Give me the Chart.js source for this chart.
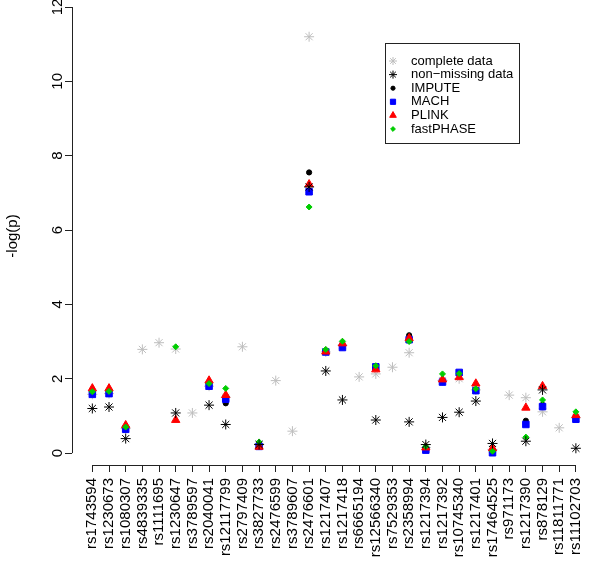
<!DOCTYPE html>
<html>
<head>
<meta charset="utf-8">
<script src="https://cdn.jsdelivr.net/npm/chart.js@4.4.1/dist/chart.umd.min.js"></script>
<style>
  html, body { margin: 0; padding: 0; background: #fff; }
</style>
</head>
<body>
<canvas id="chart" width="600" height="563"></canvas>
<script>
// SNP markers along the x axis
const snps = ['rs1743594', 'rs1230673', 'rs1080307', 'rs4839335', 'rs1111695', 'rs1230647',
  'rs3789597', 'rs2040041', 'rs12117799', 'rs2797409', 'rs3827733', 'rs2476599',
  'rs3789607', 'rs2476601', 'rs1217407', 'rs1217418', 'rs6665194', 'rs12566340',
  'rs7529353', 'rs2358994', 'rs1217394', 'rs1217392', 'rs10745340', 'rs1217401',
  'rs17464525', 'rs971173', 'rs1217390', 'rs878129', 'rs11811771', 'rs11102703'];

const yTicks = [0, 2, 4, 6, 8, 10, 12];

// -log(p) per SNP, null = not shown
const completeData = [1.58, 1.60, 0.66, 2.79, 2.97, 2.80, 1.08, 1.80, 1.50, 2.86,
  0.25, 1.95, 0.59, 11.2, 2.72, 2.90, 2.05, 2.13, 2.31, 2.70,
  0.15, 1.95, 2.00, 1.70, 0.10, 1.56, 1.49, 1.11, 0.68, 0.95];
const nonMissing = [1.20, 1.24, 0.39, null, null, 1.08, null, 1.29, 0.77, null,
  0.23, null, null, 7.16, 2.21, 1.43, null, 0.89, null, 0.84,
  0.23, 0.96, 1.10, 1.40, 0.26, null, 0.32, 1.70, null, 0.13];
const impute = [1.60, 1.62, 0.66, null, null, null, null, 1.82, 1.34, null,
  0.20, null, null, 7.55, 2.74, 2.88, null, 2.30, null, 3.17,
  0.10, 1.93, 2.15, 1.70, 0.03, null, 0.87, 1.30, null, 0.93];
const mach = [1.58, 1.60, 0.64, null, null, null, null, 1.80, 1.45, null,
  0.18, null, null, 7.03, 2.72, 2.84, null, 2.32, null, 3.05,
  0.08, 1.91, 2.17, 1.68, 0.01, null, 0.77, 1.25, null, 0.91];
const plink = [1.74, 1.74, 0.75, null, null, 0.89, null, 1.95, 1.56, null,
  0.17, null, null, 7.23, 2.73, 2.95, null, 2.25, null, 3.09,
  0.15, 1.98, 2.04, 1.87, 0.13, null, 1.22, 1.80, null, 1.02];
const fastPhase = [1.65, 1.66, 0.70, null, null, 2.86, null, 1.87, 1.74, null,
  0.30, null, null, 6.62, 2.79, 3.01, null, 2.35, null, 3.00,
  0.18, 2.13, 2.14, 1.73, 0.05, null, 0.43, 1.43, null, 1.11];

const FONT = '"Liberation Sans", Arial, Helvetica, sans-serif';

function toPoints(vals) {
  return vals.map((v, i) => (v == null ? null : { x: i, y: v })).filter(Boolean);
}

function series(label, vals, color, style, radius, order) {
  return {
    label: label,
    data: toPoints(vals),
    pointStyle: style,
    pointRadius: radius,
    backgroundColor: color,
    borderColor: color,
    pointBorderWidth: 1,
    order: order
  };
}

const datasets = [
  series('complete data', completeData, '#bebebe', 'star', 5, 6),
  series('non\u2212missing data', nonMissing, '#000000', 'star', 5, 0),
  series('IMPUTE', impute, '#000000', 'circle', 2.6, 5),
  series('MACH', mach, '#0000ff', 'rect', 4.6, 4),
  series('PLINK', plink, '#ff0000', 'triangle', 4.8, 3),
  series('fastPHASE', fastPhase, '#00cd00', 'rectRot', 3, 2)
];

// R-style axis lines (only across the tick range) and rotated y labels
const rAxes = {
  id: 'rAxes',
  afterDraw(chart) {
    const { ctx, chartArea, scales: { x, y } } = chart;
    ctx.save();
    ctx.strokeStyle = '#222';
    ctx.lineWidth = 1;
    ctx.beginPath();
    const yb = Math.round(chartArea.bottom) + 0.5;
    ctx.moveTo(x.getPixelForValue(0), yb);
    ctx.lineTo(x.getPixelForValue(snps.length - 1), yb);
    const xl = Math.round(chartArea.left) + 0.5;
    ctx.moveTo(xl, y.getPixelForValue(0));
    ctx.lineTo(xl, y.getPixelForValue(yTicks[yTicks.length - 1]));
    ctx.stroke();

    ctx.font = '15px ' + FONT;
    ctx.fillStyle = '#000';
    ctx.textAlign = 'center';
    ctx.textBaseline = 'middle';
    yTicks.forEach(v => {
      ctx.save();
      ctx.translate(xl - 15, y.getPixelForValue(v));
      ctx.rotate(-Math.PI / 2);
      ctx.fillText(String(v), 0, 0);
      ctx.restore();
    });
    ctx.restore();
  }
};

// boxed legend inside the plot, like R's legend()
const boxLegend = {
  id: 'boxLegend',
  afterDraw(chart) {
    const ctx = chart.ctx;
    const left = 385, top = 43, w = 134, h = 100, rowH = 13.6;
    ctx.save();
    ctx.fillStyle = '#fff';
    ctx.fillRect(left, top, w, h);
    ctx.strokeStyle = '#222';
    ctx.lineWidth = 1;
    ctx.strokeRect(left + 0.5, top + 0.5, w, h);
    ctx.font = '13px ' + FONT;
    ctx.textBaseline = 'middle';
    chart.data.datasets.forEach((ds, i) => {
      const cy = top + 18 + i * rowH;
      ctx.fillStyle = ds.backgroundColor;
      ctx.strokeStyle = ds.borderColor;
      ctx.lineWidth = 1;
      Chart.helpers.drawPoint(ctx, {
        pointStyle: ds.pointStyle,
        radius: ds.pointRadius * 0.8,
        borderWidth: 1,
        rotation: 0
      }, left + 8, cy);
      ctx.fillStyle = '#000';
      ctx.fillText(ds.label, left + 26, cy);
    });
    ctx.restore();
  }
};

new Chart(document.getElementById('chart'), {
  type: 'scatter',
  data: { datasets: datasets },
  options: {
    responsive: false,
    animation: false,
    events: [],
    layout: { padding: { top: 7, right: 0, bottom: 0, left: 0 } },
    plugins: {
      legend: { display: false },
      tooltip: { enabled: false }
    },
    scales: {
      x: {
        type: 'linear',
        min: -1.22,
        max: 29.58,
        afterBuildTicks: s => { s.ticks = snps.map((_, i) => ({ value: i })); },
        afterFit: s => { s.height = 98; },
        border: { display: false },
        grid: { drawOnChartArea: false, drawTicks: true, tickLength: 7, color: '#222' },
        ticks: {
          autoSkip: false,
          minRotation: 90,
          maxRotation: 90,
          padding: 6,
          color: '#000',
          font: { family: FONT, size: 15 },
          callback: v => snps[v]
        }
      },
      y: {
        type: 'linear',
        min: -0.32,
        max: 12,
        afterBuildTicks: s => { s.ticks = yTicks.map(v => ({ value: v })); },
        afterFit: s => { s.width = 72; },
        border: { display: false },
        grid: { drawOnChartArea: false, drawTicks: true, tickLength: 7, color: '#222' },
        ticks: { display: false },
        title: {
          display: true,
          text: '-log(p)',
          color: '#000',
          font: { family: FONT, size: 15 },
          padding: { top: 4, bottom: 0 }
        }
      }
    }
  },
  plugins: [rAxes, boxLegend]
});
</script>
</body>
</html>
